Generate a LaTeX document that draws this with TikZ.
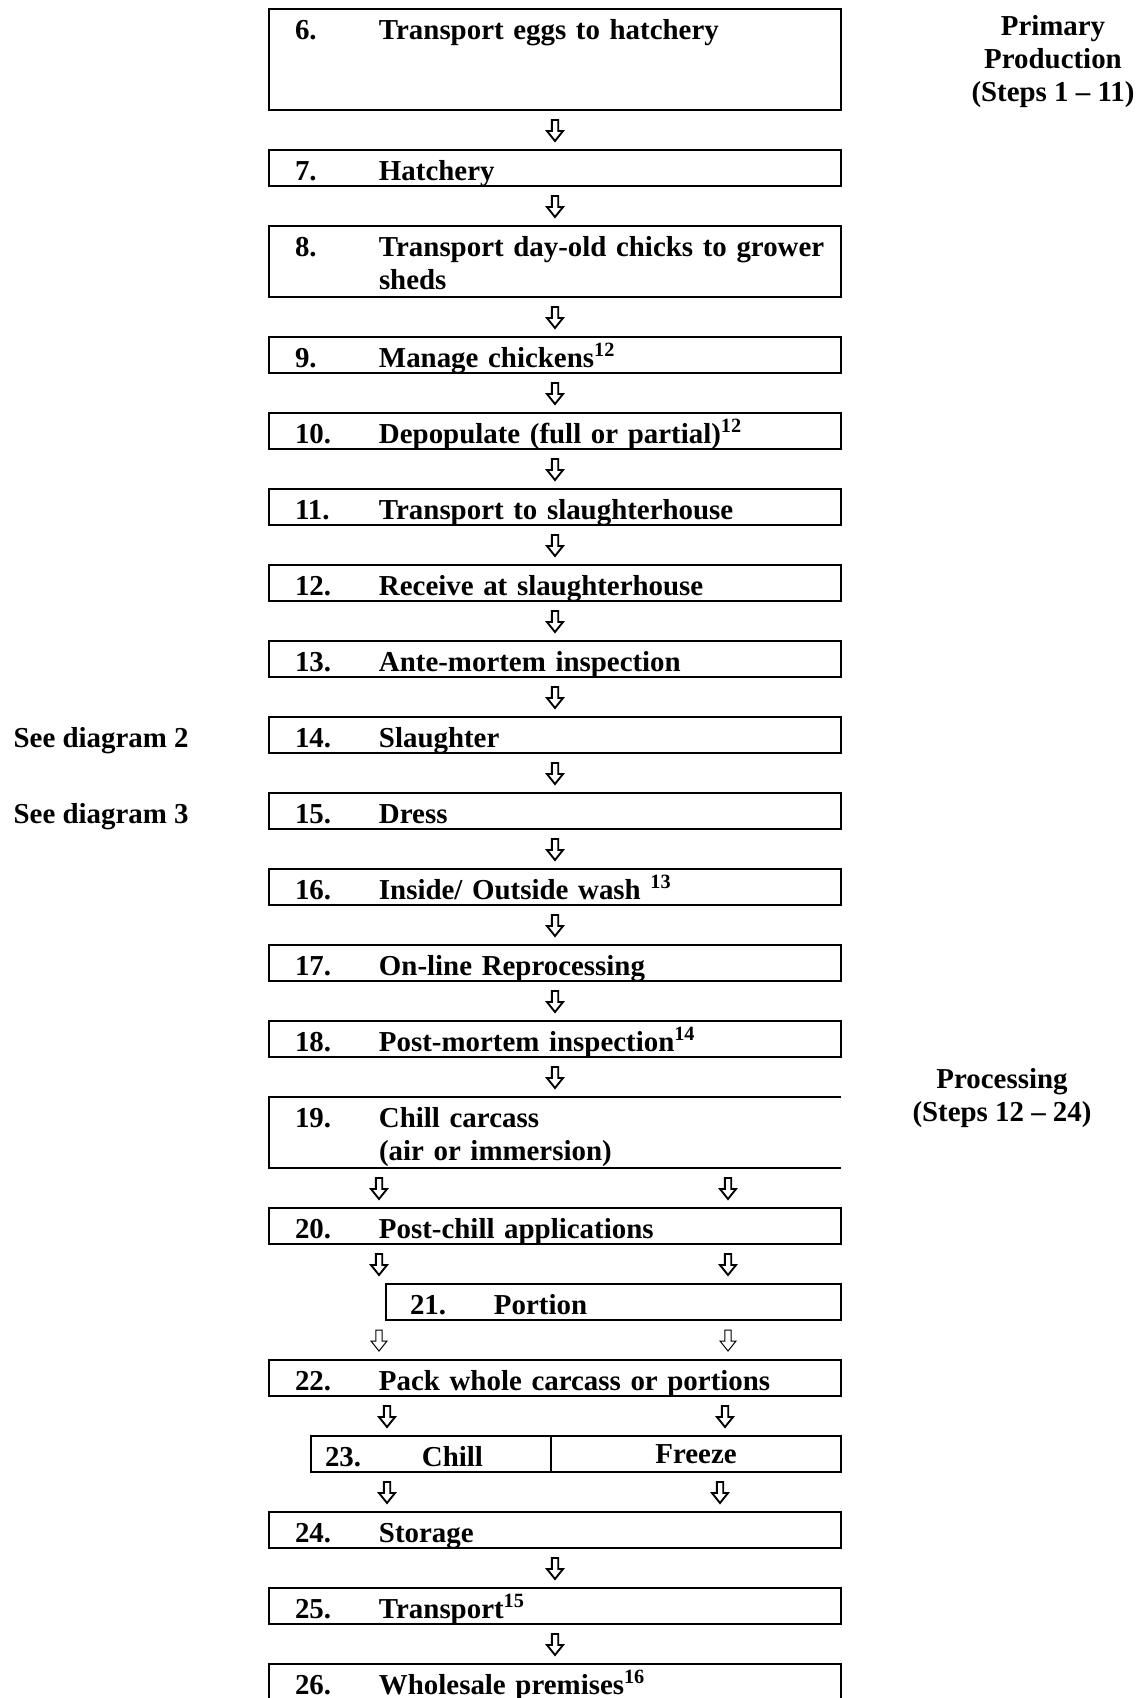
\documentclass[tikz,border=0pt]{standalone}
\usepackage{fontspec}
\setmainfont{Liberation Serif}
\usepackage{tikz}
\usetikzlibrary{positioning,calc}

\newcommand{\stepno}[1]{\makebox[42pt][l]{#1}}

\begin{document}
\begin{tikzpicture}[
  font=\fontsize{14.45}{16.5}\selectfont\bfseries,
  node distance=20pt,
  stepbox/.style={draw,line width=1.1pt,outer sep=0pt,minimum width=286pt,text width=260pt,
    inner xsep=13pt,inner ysep=0pt,align=left,text height=15pt,text depth=3pt},
  tallbox/.style={stepbox,text depth=20.5pt},
  side/.style={inner sep=0pt,align=center},
  flow/.style={line width=0.95pt,line join=miter,to path={let \p1=($(\tikztostart)!0.5!(\tikztotarget)$) in
    (\x1-1.6pt,\y1+5pt) -- (\x1+1.6pt,\y1+5pt) -- (\x1+1.6pt,\y1-0.5pt) -- (\x1+4pt,\y1-0.5pt)
    -- (\x1,\y1-5.5pt) -- (\x1-4pt,\y1-0.5pt) -- (\x1-1.6pt,\y1-0.5pt) -- cycle}},
  thinflow/.style={flow,line width=0.5pt},
]
\useasboundingbox (0,0) rectangle (571.5pt,-849pt);

% primary production
\node[stepbox,text depth=35.5pt,anchor=north west] (s6) at (134.5pt,-4.5pt) {\stepno{6.}Transport eggs to hatchery};
\node[stepbox,below=of s6] (s7) {\stepno{7.}Hatchery};
\node[tallbox,below=of s7] (s8) {\stepno{8.}\begin{tabular}[t]{@{}l@{}}Transport day-old chicks to grower\\sheds\end{tabular}};
\node[stepbox,below=of s8] (s9) {\stepno{9.}Manage chickens\textsuperscript{12}};
\node[stepbox,below=of s9] (s10) {\stepno{10.}Depopulate (full or partial)\textsuperscript{12}};
\node[stepbox,below=of s10] (s11) {\stepno{11.}Transport to slaughterhouse};

% processing
\node[stepbox,below=of s11] (s12) {\stepno{12.}Receive at slaughterhouse};
\node[stepbox,below=of s12] (s13) {\stepno{13.}Ante-mortem inspection};
\node[stepbox,below=of s13] (s14) {\stepno{14.}Slaughter};
\node[stepbox,below=of s14] (s15) {\stepno{15.}Dress};
\node[stepbox,below=of s15] (s16) {\stepno{16.}Inside/ Outside wash \textsuperscript{13}};
\node[stepbox,below=of s16] (s17) {\stepno{17.}On-line Reprocessing};
\node[stepbox,below=of s17] (s18) {\stepno{18.}Post-mortem inspection\textsuperscript{14}};
\node[tallbox,draw=none,below=of s18] (s19) {\stepno{19.}\begin{tabular}[t]{@{}l@{}}Chill carcass\\(air or immersion)\end{tabular}};
\draw[line width=1.1pt] (s19.north east) -- (s19.north west) -- (s19.south west) -- (s19.south east);
\node[stepbox,below=of s19] (s20) {\stepno{20.}Post-chill applications};
\node[stepbox,minimum width=227.5pt,text width=203.5pt,inner xsep=12pt,below left=20pt and 0pt of s20.south east] (s21) {\stepno{21.}Portion};
\node[stepbox,below left=20pt and 0pt of s21.south east] (s22) {\stepno{22.}Pack whole carcass or portions};
\node[stepbox,minimum width=120pt,text width=106pt,inner xsep=7pt,below left=20pt and 145pt of s22.south east] (s23) {\makebox[48.5pt][l]{23.}Chill};
\node[stepbox,minimum width=145pt,text width=131pt,inner xsep=7pt,align=center,text height=13.8pt,text depth=4.2pt,right=0pt of s23] (s23f) {Freeze};

% distribution
\node[stepbox,below left=20pt and 0pt of s23f.south east] (s24) {\stepno{24.}Storage};
\node[stepbox,below=of s24] (s25) {\stepno{25.}Transport\textsuperscript{15}};
\node[stepbox,below=of s25] (s26) {\stepno{26.}Wholesale premises\textsuperscript{16}};

% side notes
\node[side,anchor=base east] (see2) at ([xshift=-40pt]s14.base west) {See diagram 2};
\node[side,anchor=base east] (see3) at ([xshift=-40pt]s15.base west) {See diagram 3};
\node[side,anchor=north] (prim) at ([xshift=106pt,yshift=-3pt]s6.north east) {Primary\\Production\\(Steps 1 -- 11)};
\node[side,anchor=north] (proc) at ([xshift=80.5pt,yshift=14.5pt]s19.north east) {Processing\\(Steps 12 -- 24)};

% arrows, one column
\foreach \a/\b in {s6/s7,s7/s8,s8/s9,s9/s10,s10/s11,s11/s12,s12/s13,s13/s14,s14/s15,s15/s16,s16/s17,s17/s18,s18/s19,s24/s25,s25/s26}
  \draw[flow] (\a.south) to (\b.north);

% arrows, two columns
\draw[flow] ($(s19.south west)+(55pt,0)$) to ($(s20.north west)+(55pt,0)$);
\draw[flow] ($(s19.south east)+(-56.5pt,0)$) to ($(s20.north east)+(-56.5pt,0)$);
\draw[flow] ($(s20.south west)+(55pt,0)$) to ($(s21.north -| s20.west)+(55pt,0)$);
\draw[flow] ($(s20.south east)+(-56.5pt,0)$) to ($(s21.north east)+(-56.5pt,0)$);
\draw[thinflow] ($(s21.south -| s20.west)+(55pt,0)$) to ($(s22.north west)+(55pt,0)$);
\draw[thinflow] ($(s21.south east)+(-56.5pt,0)$) to ($(s22.north east)+(-56.5pt,0)$);
\draw[flow] ($(s22.south west)+(59pt,0)$) to ($(s23.north -| s22.west)+(59pt,0)$);
\draw[flow] ($(s22.south east)+(-58pt,0)$) to ($(s23f.north east)+(-58pt,0)$);
\draw[flow] ($(s23.south -| s24.west)+(59pt,0)$) to ($(s24.north west)+(59pt,0)$);
\draw[flow] ($(s23f.south east)+(-60.5pt,0)$) to ($(s24.north east)+(-60.5pt,0)$);
\end{tikzpicture}
\end{document}
